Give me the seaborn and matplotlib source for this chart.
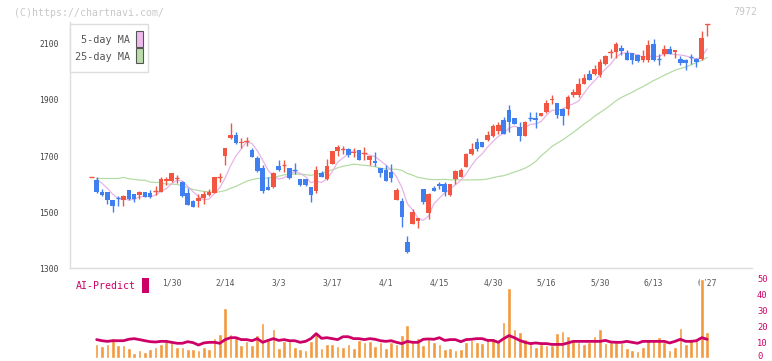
import numpy as np
import pandas as pd
import matplotlib
matplotlib.use("Agg")
import matplotlib.pyplot as plt
import matplotlib.transforms as mtransforms
from matplotlib.patches import Rectangle
import seaborn as sns

nan = np.nan
# ---------------- data ----------------
dates = ['1/30', '2/14', '3/3', '3/17', '4/1', '4/15', '4/30', '5/16', '5/30', '6/13', '6/27']
date_idx = [15, 25, 35, 45, 55, 65, 75, 85, 95, 105, 115]

opens = [1624,1614,1573,1571,1543,1550,1543,1579,1564,1561,1571,1567,1575,1573,1610,1612,1618,1607,1567,1540,
         1540,1552,1561,1570,1621,1700,1764,1775,1745,1749,1721,1692,1656,1590,1588,1665,1667,1656,1651,1620,
         1618,1590,1575,1640,1617,1672,1719,1722,1724,1710,1721,1709,1686,1683,1656,1650,1643,1545,1539,1392,
         1457,1468,1582,1498,1587,1602,1601,1561,1617,1624,1660,1709,1751,1751,1757,1770,1791,1829,1864,1837,
         1803,1770,1837,1836,1841,1857,1898,1889,1868,1866,1918,1916,1955,1991,1991,1988,2029,2067,2071,2086,
         2068,2068,2061,2044,2044,2098,2047,2062,2083,2070,2047,2041,2053,2047,2045,2167]
highs = [1624,1624,1581,1573,1543,1557,1561,1579,1564,1575,1571,1579,1593,1625,1625,1639,1632,1611,1585,1543,
         1564,1575,1582,1624,1638,1727,1817,1786,1763,1767,1729,1700,1668,1626,1644,1686,1686,1656,1676,1620,
         1618,1590,1664,1648,1689,1718,1739,1736,1729,1729,1721,1731,1700,1716,1656,1668,1671,1585,1551,1414,
         1513,1478,1582,1567,1593,1607,1607,1602,1650,1656,1710,1745,1765,1751,1789,1813,1823,1840,1882,1837,
         1821,1824,1857,1857,1854,1898,1918,1889,1872,1918,1940,1979,1991,2005,2023,2047,2059,2083,2106,2095,
         2079,2068,2065,2077,2112,2118,2065,2095,2091,2079,2055,2047,2065,2051,2145,2169]
lows = [1624,1569,1557,1529,1500,1521,1521,1543,1535,1548,1555,1551,1561,1571,1598,1608,1605,1555,1526,1518,
        1520,1529,1557,1567,1609,1668,1762,1743,1727,1736,1695,1644,1570,1579,1586,1648,1643,1617,1636,1593,
        1595,1537,1567,1626,1614,1672,1700,1707,1698,1698,1686,1686,1668,1664,1624,1612,1606,1543,1448,1355,
        1457,1443,1529,1477,1576,1584,1558,1558,1602,1624,1660,1705,1719,1731,1754,1767,1779,1779,1787,1814,
        1753,1770,1825,1801,1841,1854,1884,1836,1809,1845,1910,1912,1955,1970,1988,1982,2025,2051,2051,2059,
        2041,2029,2035,2035,2035,2039,2023,2055,2062,2049,2023,2005,2027,2017,2041,2128]
closes = [1624,1573,1561,1543,1521,1549,1557,1548,1548,1571,1555,1554,1577,1618,1617,1639,1621,1558,1527,1520,
          1552,1564,1573,1624,1624,1727,1775,1748,1751,1752,1698,1648,1575,1579,1638,1652,1669,1623,1650,1596,
          1596,1561,1650,1626,1664,1718,1731,1724,1704,1716,1686,1710,1700,1676,1641,1612,1623,1579,1483,1358,
          1499,1478,1537,1564,1576,1594,1573,1601,1646,1652,1707,1724,1724,1731,1775,1807,1811,1779,1823,1814,
          1773,1821,1836,1829,1854,1890,1904,1845,1842,1912,1928,1955,1979,1970,2011,2034,2055,2069,2098,2074,
          2044,2044,2038,2058,2094,2041,2046,2083,2062,2079,2031,2031,2052,2035,2121,2169]
ma5 = [nan, 1617, 1603, 1585,
       1564,1549,1546,1544,1545,1555,1556,1555,1561,1575,1584,1601,1614,1611,1592,1573,1556,1544,1547,1567,1587,
       1622,1665,1700,1725,1751,1745,1719,1685,1650,1628,1618,1623,1632,1646,1638,1627,1605,1611,1606,1619,1644,
       1678,1693,1708,1719,1712,1708,1703,1698,1683,1668,1650,1626,1588,1531,1508,1479,1471,1487,1531,1550,1569,
       1582,1598,1613,1636,1666,1691,1708,1732,1752,1770,1781,1799,1807,1800,1802,1813,1815,1823,1846,1863,1864,
       1867,1879,1886,1896,1923,1949,1969,1990,2010,2028,2053,2066,2068,2066,2060,2052,2056,2055,2055,2064,2065,
       2062,2060,2057,2051,2046,2054,2082]
ma25 = [nan, 1620,1620,1620,1620,1620,1624,1619,1617,1614,1614,1607,1606,1606,1600,1600,1599,1593,1588,1581,1577,
        1574,1573,1571,1573,1577,1585,1592,1601,1610,1616,1620,1621,1622,1625,1628,1633,1635,1636,1635,1634,1631,
        1635,1639,1645,1651,1658,1664,1667,1671,1669,1667,1665,1662,1657,1654,1653,1653,1649,1638,1632,1624,1621,
        1617,1616,1616,1617,1615,1616,1615,1615,1615,1615,1616,1618,1623,1627,1630,1636,1643,1649,1657,1667,1681,
        1701,1717,1734,1746,1757,1771,1784,1799,1814,1827,1842,1855,1868,1882,1897,1909,1918,1927,1938,1947,1958,
        1969,1978,1988,1997,2006,2012,2017,2025,2033,2041,2051]
volume = [nan, 8.5,7.3,8.5,12.3,7.9,7.9,6.0,2.9,4.8,3.5, 5.4,6.7,8.5,10.4,9.8,6.7,6.7,5.4,5.4,4.8,
          6.7,5.4,12.3,14.8,31.0,14.8,12.9,7.9,10.4,7.9, 14.2,21.7,11.0,17.9,6.0,10.4,10.4,6.7,5.4,4.8,
          10.4,14.8,6.0,8.5,8.5,7.3,6.7,8.5,6.0,11.0, 9.8,10.4,7.3,9.8,6.0,
          9.8,8.5,14.2,20.4,11.0,12.3,7.9,12.9,9.8,8.5, 5.4,6.0,4.8,5.4,9.8,11.0,9.8,9.2,11.0,12.3,
          9.8,22.3,43.5,17.9,16.0,11.7,9.2,6.7,8.5,7.9, 7.9,15.4,16.7,13.5,11.7,9.8,8.5,9.8,13.5,17.9,
          9.2,9.8,9.8,9.2,6.0,4.8,4.2,6.7,11.7,11.0, 12.9,9.8,4.8,6.7,18.5,8.5,11.0,11.7,49.2,16.0]
ai_predict = [nan, 11.5,10.8,10.4,10.8,10.8,10.8,11.7,12.1,11.5,10.8, 10.2,10.0,10.4,10.4,9.8,9.2,9.2,10.2,9.6,8.1,
              9.4,9.8,9.8,9.2,11.5,12.7,12.7,11.5,11.5,10.8, 12.1,9.8,11.0,12.1,11.0,11.5,10.8,10.8,9.8,10.4,
              12.1,15.2,12.3,12.7,12.1,11.5,13.3,13.3,12.1,12.1, 11.5,12.1,11.7,10.8,10.4,
              10.8,9.8,9.0,10.4,9.8,9.8,11.7,11.9,11.7,12.7, 11.0,11.5,11.5,10.2,11.5,11.7,12.1,12.1,11.0,11.0,
              9.8,12.1,14.0,12.7,11.0,9.8,9.0,9.4,9.0,9.0, 8.5,8.5,8.5,9.4,10.4,10.4,10.4,10.4,10.4,10.4,
              11.0,10.0,9.8,9.8,10.4,9.8,9.2,10.4,10.4,10.4, 10.4,10.4,9.4,10.4,11.7,10.4,10.4,10.8,12.7,11.7]
price_ticks = [1300, 1500, 1700, 1900, 2100]
volume_ticks = [0, 10, 20, 30, 40, 50]

n = len(closes)
idx = np.arange(n)

# ---------------- style ----------------
sns.set_style("white")
plt.rcParams['font.family'] = ['DejaVu Sans Mono', 'DejaVu Sans']

W, H = 772, 361
fig = plt.figure(figsize=(W / 100, H / 100), dpi=100)

def fx(px):
    return px / W

def fy(py):
    return 1 - py / H

X0, X1 = 70, 752.3
Y_TOP, Y_BOT = 22, 268.3
c0, step = 91.3, 5.355
pxu = (268.3 - 43.8) / 800.0

ax = fig.add_axes([fx(X0), fy(Y_BOT), fx(X1) - fx(X0), fy(Y_TOP) - fy(Y_BOT)])

RED, BLUE = '#f25542', '#3f7ff0'
o = np.array(opens, float); c = np.array(closes, float)
hi = np.array(highs, float); lo = np.array(lows, float)
col = np.array([RED if cc >= oo else BLUE for oo, cc in zip(o, c)])

sns.lineplot(x=idx, y=ma25, ax=ax, color='#b5dca5', lw=0.9, zorder=2)
sns.lineplot(x=idx, y=ma5, ax=ax, color='#e8b4e8', lw=0.9, zorder=2)
ax.vlines(idx, lo, hi, colors=col, lw=1.0, zorder=3)
ax.bar(idx, np.abs(c - o), bottom=np.minimum(o, c), width=0.85, color=col, linewidth=0, zorder=4)
small = np.abs(c - o) < 4
ax.hlines(c[small], idx[small] - 0.45, idx[small] + 0.45, colors=col[small], lw=1.0, zorder=4)

ax.set_xlim((X0 - c0) / step, (X1 - c0) / step)
ax.set_ylim(1300, 1300 + (Y_BOT - Y_TOP) / pxu)
for s in ['top', 'right']:
    ax.spines[s].set_visible(False)
for s in ['left', 'bottom']:
    ax.spines[s].set_color('#dddddd')
    ax.spines[s].set_linewidth(1.0)
ax.set_yticks(price_ticks)
ax.set_yticklabels([str(t) for t in price_ticks])
ax.tick_params(axis='y', length=3.6, color='#dddddd', width=1, pad=4.3, labelsize=5.8, labelcolor='#444444')
maj = [(X0 + 61.85 * k - c0) / step for k in range(12)]
ax.set_xticks(maj)
ax.set_xticklabels([''] * len(maj))
ax.tick_params(axis='x', which='major', direction='inout', length=5.8, color='#dddddd', width=1)
ax.set_xticks(date_idx, minor=True)
ax.set_xticklabels(dates, minor=True)
ax.tick_params(axis='x', which='minor', length=0, pad=7, labelsize=5.8, labelcolor='#555555')
ax.set_xlabel(''); ax.set_ylabel('')
ax.grid(False)
ax.patch.set_alpha(0)

# ---------------- volume panel ----------------
VB, VT = 358.0, 278.0
ax2 = fig.add_axes([fx(X0), fy(VB), fx(X1) - fx(X0), fy(VT) - fy(VB)])
vdf = pd.DataFrame({'i': idx[1:], 'v': volume[1:]})
sns.barplot(data=vdf, x='i', y='v', native_scale=True, width=0.68, color='#f39a3f', saturation=1,
            ax=ax2, zorder=2)
sns.lineplot(x=idx, y=ai_predict, ax=ax2, color='#cc0066', lw=2.0, zorder=3)
ax2.set_xlim(ax.get_xlim())
ax2.set_ylim(0, 50)
for s in ax2.spines.values():
    s.set_visible(False)
ax2.set_xticks([])
ax2.yaxis.tick_right()
ax2.set_yticks(volume_ticks)
ax2.set_yticklabels([str(t) for t in volume_ticks])
ax2.tick_params(axis='y', length=0, pad=3.4, labelsize=6.3, labelcolor='#cc0066')
ax2.set_xlabel(''); ax2.set_ylabel('')
ax2.patch.set_alpha(0)
# lift the bottom "0" label slightly so it stays inside the picture
lift = mtransforms.ScaledTranslation(0, 2.5 / 100, fig.dpi_scale_trans)
for lab in ax2.get_yticklabels(which='major'):
    if lab.get_text() == '0':
        lab.set_transform(lab.get_transform() + lift)

# ---------------- texts / legend ----------------
fig.text(fx(14), fy(12.5), '(C)https://chartnavi.com/', fontsize=7.1, color='#c8c8c8', va='center', ha='left')
fig.text(fx(757), fy(12), '7972', fontsize=7.1, color='#c8c8c8', va='center', ha='right')

fig.add_artist(Rectangle((fx(70), fy(71.7)), fx(148.3) - fx(70), fy(24) - fy(71.7), transform=fig.transFigure,
                         facecolor='white', edgecolor='#dddddd', lw=1, zorder=5))
fig.add_artist(Rectangle((fx(136), fy(46.7)), fx(142.7) - fx(136), fy(31) - fy(46.7), transform=fig.transFigure,
                         facecolor='#eebbee', edgecolor='#555555', lw=0.8, zorder=6))
fig.add_artist(Rectangle((fx(136), fy(63.3)), fx(142.7) - fx(136), fy(48.3) - fy(63.3), transform=fig.transFigure,
                         facecolor='#bbddaa', edgecolor='#555555', lw=0.8, zorder=6))
fig.text(fx(130), fy(40), '5-day MA', fontsize=7.3, color='#555555', va='center', ha='right', zorder=7)
fig.text(fx(130), fy(57), '25-day MA', fontsize=7.3, color='#555555', va='center', ha='right', zorder=7)

fig.text(fx(76), fy(286), 'AI-Predict', fontsize=7.1, color='#cc0066', va='center', ha='left')
fig.add_artist(Rectangle((fx(142.3), fy(292.7)), fx(149.3) - fx(142.3), fy(278.3) - fy(292.7),
                         transform=fig.transFigure, facecolor='#cc0066', edgecolor='none'))

fig.savefig('out.png', dpi=100)
